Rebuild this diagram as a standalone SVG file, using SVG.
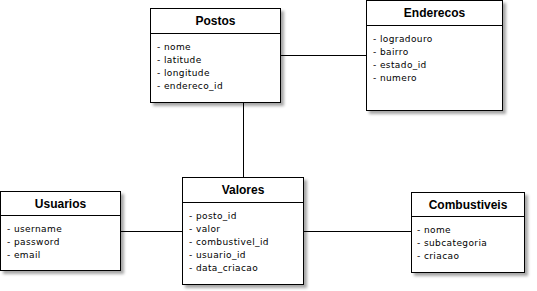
<svg xmlns="http://www.w3.org/2000/svg" width="537" height="291" viewBox="0 0 537 291">
  <defs>
    <filter id="shadow" x="-10%" y="-10%" width="130%" height="130%">
      <feDropShadow dx="3" dy="3" stdDeviation="1.8" flood-color="#000" flood-opacity="0.35"/>
    </filter>
  </defs>
  <style>
    .box { fill: #fff; stroke: #000; stroke-width: 1; }
    .sep { stroke: #000; stroke-width: 1; }
    .title { font-family: "Liberation Sans", Arial, sans-serif; font-weight: bold; font-size: 12px; text-anchor: middle; fill: #000; }
    .attr { font-family: "DejaVu Sans", sans-serif; font-size: 9px; letter-spacing: 0.4px; fill: #000; }
    .link { stroke: #000; stroke-width: 1; fill: none; }
  </style>

  <g id="connectors">
    <line class="link" x1="280.5" y1="55.5" x2="366.5" y2="55.5"/>
    <line class="link" x1="243.5" y1="102.5" x2="243.5" y2="177.5"/>
    <line class="link" x1="120.5" y1="231.5" x2="182.5" y2="231.5"/>
    <line class="link" x1="303.5" y1="231.5" x2="411.5" y2="231.5"/>
  </g>

  <g id="postos">
    <rect class="box" x="150.5" y="8.5" width="130" height="94" filter="url(#shadow)"/>
    <line class="sep" x1="150.5" y1="33.5" x2="280.5" y2="33.5"/>
    <text class="title" x="215.5" y="25">Postos</text>
    <text class="attr" x="157" y="49.5">- nome</text>
    <text class="attr" x="157" y="62.5">- latitude</text>
    <text class="attr" x="157" y="75.5">- longitude</text>
    <text class="attr" x="157" y="88.5">- endereco_id</text>
  </g>

  <g id="enderecos">
    <rect class="box" x="366.5" y="0.5" width="136" height="110" filter="url(#shadow)"/>
    <line class="sep" x1="366.5" y1="25.5" x2="502.5" y2="25.5"/>
    <text class="title" x="434.5" y="17">Enderecos</text>
    <text class="attr" x="373" y="41.5">- logradouro</text>
    <text class="attr" x="373" y="54.5">- bairro</text>
    <text class="attr" x="373" y="67.5">- estado_id</text>
    <text class="attr" x="373" y="80.5">- numero</text>
  </g>

  <g id="usuarios">
    <rect class="box" x="0.5" y="191.5" width="120" height="79" filter="url(#shadow)"/>
    <line class="sep" x1="0.5" y1="215.5" x2="120.5" y2="215.5"/>
    <text class="title" x="60.5" y="207.5">Usuarios</text>
    <text class="attr" x="7" y="232">- username</text>
    <text class="attr" x="7" y="245">- password</text>
    <text class="attr" x="7" y="258">- email</text>
  </g>

  <g id="valores">
    <rect class="box" x="182.5" y="177.5" width="121" height="107" filter="url(#shadow)"/>
    <line class="sep" x1="182.5" y1="202.5" x2="303.5" y2="202.5"/>
    <text class="title" x="243" y="194">Valores</text>
    <text class="attr" x="189" y="218.5">- posto_id</text>
    <text class="attr" x="189" y="231.5">- valor</text>
    <text class="attr" x="189" y="244.5">- combustivel_id</text>
    <text class="attr" x="189" y="257.5">- usuario_id</text>
    <text class="attr" x="189" y="270.5">- data_criacao</text>
  </g>

  <g id="combustiveis">
    <rect class="box" x="411.5" y="192.5" width="113" height="80" filter="url(#shadow)"/>
    <line class="sep" x1="411.5" y1="216.5" x2="524.5" y2="216.5"/>
    <text class="title" x="468" y="208.5">Combustiveis</text>
    <text class="attr" x="417" y="232.5">- nome</text>
    <text class="attr" x="417" y="245.5">- subcategoria</text>
    <text class="attr" x="417" y="258.5">- criacao</text>
  </g>
</svg>
